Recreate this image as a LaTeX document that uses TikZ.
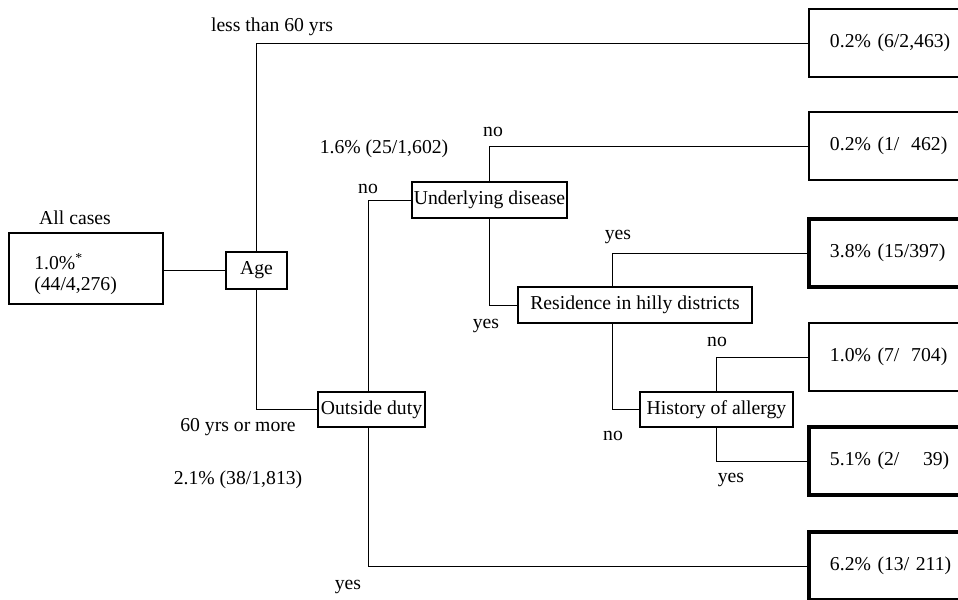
\documentclass[tikz,border=0pt]{standalone}
\usepackage{fontspec}
\setmainfont{Liberation Serif}
\usetikzlibrary{calc}

\begin{document}
\begin{tikzpicture}[
  x=0.025cm, y=-0.025cm,
  font=\fontsize{14}{14.5}\selectfont,
  var/.style={draw, line width=0.9pt, inner sep=1pt, minimum height=0.9cm},
  leaf/.style={draw, line width=0.9pt, inner sep=0pt, minimum width=4.275cm, minimum height=1.7cm, text width=3.225cm, align=left},
  hi/.style={leaf, line width=2.4pt},
  lbl/.style={inner sep=0pt},
  br/.style={line width=0.7pt},
]
  \clip (0,0) rectangle (958,599);

  % root
  \node[var, minimum width=3.85cm, minimum height=1.775cm] (all) at (86,268.5) {};
  \node[lbl, align=left, anchor=west] (alltext) at (34,274) {1.0\%\textsuperscript{*}\\(44/4,276)};
  \node[lbl] (alllbl) at (75,218) {All cases};

  % splitting variables
  \node[var, minimum width=1.525cm, minimum height=0.925cm] (age) at (256.5,270.5) {Age};
  \node[var, minimum width=2.675cm, minimum height=0.875cm] (duty) at (371.5,409.5) {Outside duty};
  \node[var, minimum width=3.875cm] (disease) at (489.5,200) {Underlying disease};
  \node[var, minimum width=5.85cm] (hilly) at (635,305) {Residence in hilly districts};
  \node[var, minimum width=3.825cm, minimum height=0.875cm] (allergy) at (716.5,409.5) {History of allergy};

  % terminal groups
  \node[leaf] (l1) at (894.5,43) {0.2\% (6/2,463)};
  \node[leaf] (l2) at (894.5,146) {0.2\% (1/\hspace{0.6em}462)};
  \node[hi] (l3) at (894.5,253) {3.8\% (15/397)};
  \node[leaf] (l4) at (894.5,357) {1.0\% (7/\hspace{0.6em}704)};
  \node[hi] (l5) at (894.5,461) {5.1\% (2/\hspace{1.2em}39)};
  \node[hi] (l6) at (894.5,566) {6.2\% (13/ 211)};

  % branches
  \draw[br] (age.west) -- (age.west -| all.east);
  \draw[br] (age.north) |- (l1.west);
  \draw[br] (age.south) |- (duty.west);
  \draw[br] ($(duty.north)+(-3,0)$) |- (disease.west);
  \draw[br] ($(duty.south)+(-3,0)$) |- (l6.west);
  \draw[br] (disease.north) |- (l2.west);
  \draw[br] (disease.south) |- (hilly.west);
  \draw[br] ($(hilly.north)+(-23,0)$) |- (l3.west);
  \draw[br] ($(hilly.south)+(-23,0)$) |- (allergy.west);
  \draw[br] (allergy.north) |- (l4.west);
  \draw[br] (allergy.south) |- (l5.west);

  % branch labels
  \node[lbl] (lt60) at (272,27) {less than 60 yrs};
  \node[lbl] (ge60) at (238,427) {60 yrs or more};
  \node[lbl] (ge60n) at (238,480) {2.1\% (38/1,813)};
  \node[lbl] (dutyno) at (368,189) {no};
  \node[lbl] (dutyn) at (384,149) {1.6\% (25/1,602)};
  \node[lbl] (dutyyes) at (348,587) {yes};
  \node[lbl] (disno) at (493,132) {no};
  \node[lbl] (disyes) at (486,326) {yes};
  \node[lbl] (hilyes) at (618,237) {yes};
  \node[lbl] (hilno) at (613,436) {no};
  \node[lbl] (allno) at (717,342) {no};
  \node[lbl] (allyes) at (731,480) {yes};
\end{tikzpicture}
\end{document}
